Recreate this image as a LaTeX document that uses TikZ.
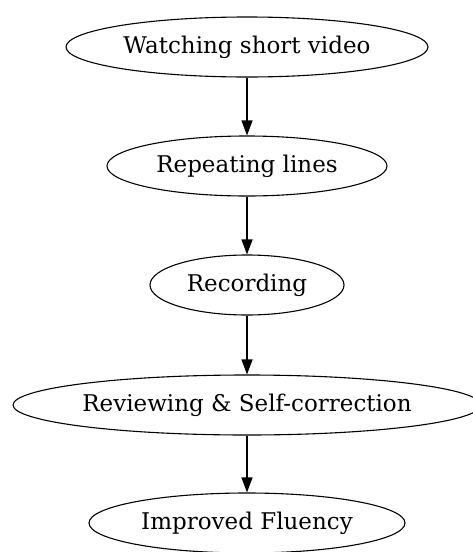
\documentclass[tikz,border=0pt]{standalone}
\usepackage{fontspec}
\setmainfont{DejaVu Serif}
\usetikzlibrary{shapes.geometric, arrows.meta}

\tikzset{
	stage/.style={ellipse, draw, line width=1.1pt, inner sep=0pt, minimum height=60pt, font=\fontsize{23}{27}\selectfont},
	flow/.style={-{Triangle[length=15pt, width=11pt]}, line width=1.1pt}
}

\begin{document}
\begin{tikzpicture}[x=1pt, y=1pt]
\useasboundingbox (0, 0) rectangle (472, -552);

\node[stage, minimum width=362pt] (watch) at (247, -47) {Watching short video};
\node[stage, minimum width=280pt] (repeat) at (247, -166) {Repeating lines};
\node[stage, minimum width=194pt] (record) at (247, -285) {Recording};
\node[stage, minimum width=468pt] (review) at (247, -405) {Reviewing \& Self-correction};
\node[stage, minimum width=316pt] (fluent) at (247, -523) {Improved Fluency};

\foreach \a/\b in {watch/repeat, repeat/record, record/review, review/fluent}
\draw[flow] (\a) -- (\b);

\end{tikzpicture}
\end{document}
